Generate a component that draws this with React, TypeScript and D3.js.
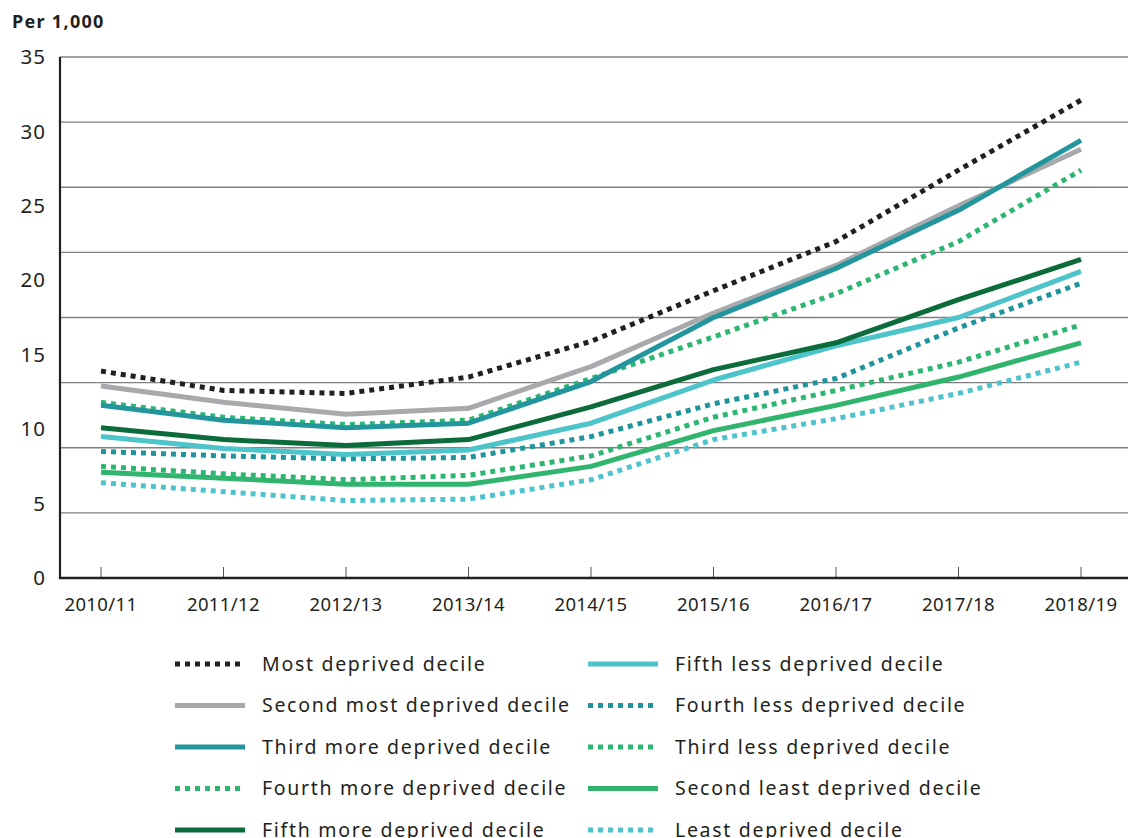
import React, { useEffect } from "react";
import { scaleLinear, scalePoint, line, range } from "d3";

const years = [
  "2010/11", "2011/12", "2012/13", "2013/14", "2014/15",
  "2015/16", "2016/17", "2017/18", "2018/19",
];

const mostDeprived = [13.9, 12.6, 12.4, 13.5, 15.9, 19.3, 22.6, 27.4, 32.1];
const secondMost = [12.9, 11.8, 11.0, 11.4, 14.2, 17.8, 21.0, 25.0, 28.8];
const thirdMore = [11.6, 10.6, 10.1, 10.4, 13.2, 17.5, 20.8, 24.7, 29.4];
const fourthMore = [11.8, 10.8, 10.3, 10.6, 13.4, 16.2, 19.1, 22.6, 27.4];
const fifthMore = [10.1, 9.3, 8.9, 9.3, 11.5, 14.0, 15.8, 18.7, 21.4];
const fifthLess = [9.5, 8.7, 8.3, 8.6, 10.4, 13.3, 15.6, 17.5, 20.6];
const fourthLess = [8.5, 8.2, 8.0, 8.1, 9.5, 11.7, 13.4, 16.8, 19.8];
const thirdLess = [7.5, 7.0, 6.6, 6.9, 8.2, 10.8, 12.6, 14.5, 17.0];
const secondLeast = [7.1, 6.7, 6.3, 6.3, 7.5, 9.9, 11.6, 13.5, 15.8];
const leastDeprived = [6.4, 5.8, 5.2, 5.3, 6.6, 9.3, 10.7, 12.4, 14.5];

const yTicks = [0, 5, 10, 15, 20, 25, 30, 35];

interface Series {
  name: string;
  values: number[];
  color: string;
  dotted: boolean;
}

const series: Series[] = [
  { name: "Most deprived decile", values: mostDeprived, color: "#231f20", dotted: true },
  { name: "Second most deprived decile", values: secondMost, color: "#a7a9ac", dotted: false },
  { name: "Third more deprived decile", values: thirdMore, color: "#23969d", dotted: false },
  { name: "Fourth more deprived decile", values: fourthMore, color: "#2db672", dotted: true },
  { name: "Fifth more deprived decile", values: fifthMore, color: "#0c6b3a", dotted: false },
  { name: "Fifth less deprived decile", values: fifthLess, color: "#4dc3ca", dotted: false },
  { name: "Fourth less deprived decile", values: fourthLess, color: "#1f959b", dotted: true },
  { name: "Third less deprived decile", values: thirdLess, color: "#2db672", dotted: true },
  { name: "Second least deprived decile", values: secondLeast, color: "#30b46e", dotted: false },
  { name: "Least deprived decile", values: leastDeprived, color: "#4ec3cc", dotted: true },
];

// drawing order: back to front
const drawOrder = [9, 8, 7, 6, 5, 4, 3, 1, 2, 0];

export default function App() {
  useEffect(() => {
    document.body.style.margin = "0";
  }, []);

  const width = 1130;
  const height = 838;
  const font = "'Noto Sans', 'DejaVu Sans', sans-serif";
  const ink = "#231f20";

  const plotLeft = 60;
  const plotRight = 1128;
  const plotTop = 57;
  const plotBottom = 578;

  const x = scalePoint<string>().domain(years).range([101, 1081]);
  const y = scaleLinear().domain([0, 35]).range([plotBottom, plotTop]);

  // the grid in the original is split into 8 equal bands
  const grid = range(1, 9).map((i) => (i * 35) / 8);

  const path = line<number>()
    .x((_, i) => x(years[i])!)
    .y((d) => y(d));

  const legendRows = 5;
  const legendTop = 664;
  const legendStep = 41.5;

  return (
    <svg width={width} height={height} style={{ display: "block", background: "#fff" }}>
      <text x={12} y={28} fontFamily={font} fontSize={18} fontWeight={700} letterSpacing={1.3} fill={ink}>
        Per 1,000
      </text>

      {/* Grid */}
      {grid.map((g, i) => (
        <line
          key={i}
          x1={plotLeft}
          x2={plotRight}
          y1={y(g)}
          y2={y(g)}
          stroke="#808080"
          strokeWidth={1.3}
        />
      ))}

      {/* X ticks */}
      {years.map((yr) => (
        <line
          key={yr}
          x1={x(yr)}
          x2={x(yr)}
          y1={plotBottom}
          y2={plotBottom - 11}
          stroke="#555"
          strokeWidth={1}
        />
      ))}

      {/* Axes */}
      <line x1={plotLeft} x2={plotLeft} y1={plotTop} y2={plotBottom + 1} stroke={ink} strokeWidth={2.2} />
      <line x1={plotLeft - 1} x2={plotRight} y1={plotBottom} y2={plotBottom} stroke={ink} strokeWidth={2.5} />

      {/* Y labels */}
      {yTicks.map((t) => (
        <text
          key={t}
          x={46}
          y={y(t)}
          dy="0.35em"
          textAnchor="end"
          fontFamily={font}
          fontSize={20.5}
          letterSpacing={1}
          fill={ink}
        >
          {t}
        </text>
      ))}

      {/* X labels */}
      {years.map((yr) => (
        <text
          key={yr}
          x={x(yr)}
          y={611}
          textAnchor="middle"
          fontFamily={font}
          fontSize={18.5}
          letterSpacing={0.4}
          fill={ink}
        >
          {yr}
        </text>
      ))}

      {/* Lines */}
      {drawOrder.map((idx) => {
        const s = series[idx];
        return (
          <path
            key={s.name}
            d={path(s.values) ?? ""}
            fill="none"
            stroke={s.color}
            strokeWidth={5}
            strokeDasharray={s.dotted ? "5,5" : undefined}
            strokeLinejoin="round"
          />
        );
      })}

      {/* Legend */}
      {series.map((s, i) => {
        const col = Math.floor(i / legendRows);
        const row = i % legendRows;
        const sx = col === 0 ? 175 : 588;
        const ly = legendTop + row * legendStep;
        return (
          <g key={s.name}>
            <line
              x1={sx}
              x2={sx + 70}
              y1={ly}
              y2={ly}
              stroke={s.color}
              strokeWidth={5}
              strokeDasharray={s.dotted ? "5,5" : undefined}
            />
            <text
              x={sx + 87}
              y={ly}
              dy="0.35em"
              fontFamily={font}
              fontSize={19.5}
              letterSpacing={1.7}
              fill={ink}
            >
              {s.name}
            </text>
          </g>
        );
      })}
    </svg>
  );
}
